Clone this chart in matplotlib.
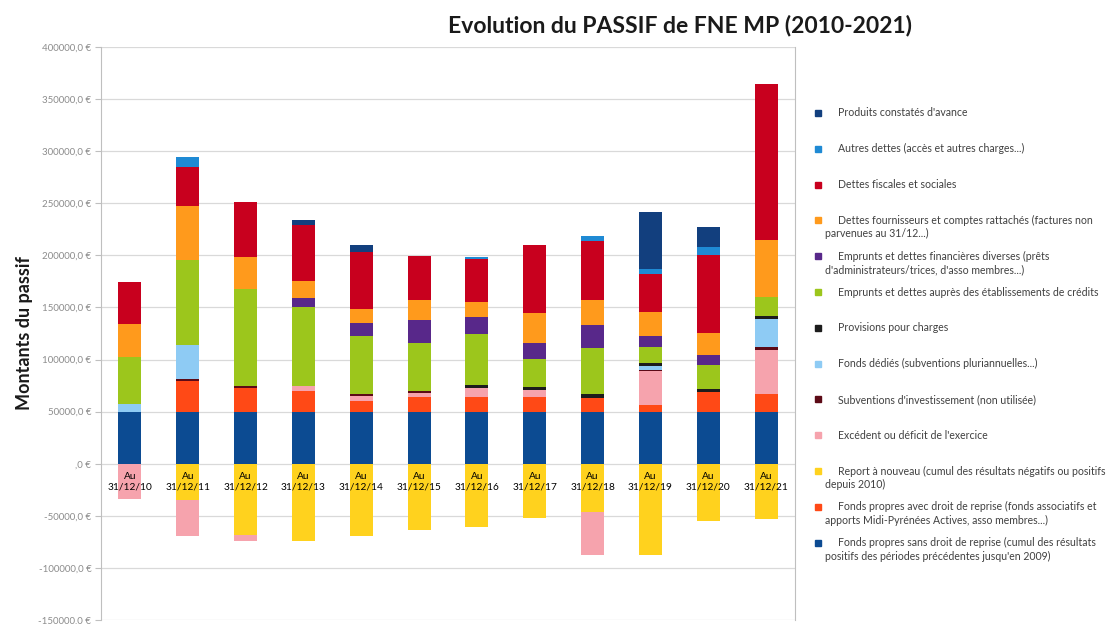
import matplotlib
matplotlib.use("Agg")
import numpy as np
from matplotlib import pyplot as plt
from matplotlib.patches import Rectangle
from matplotlib.ticker import FuncFormatter, MultipleLocator

plt.rcParams['font.family'] = ['Lato', 'DejaVu Sans']

dates = ["31/12/10", "31/12/11", "31/12/12", "31/12/13", "31/12/14", "31/12/15",
         "31/12/16", "31/12/17", "31/12/18", "31/12/19", "31/12/20", "31/12/21"]

# postes du passif, du haut de la pile vers le bas (ordre de la légende)
produits_avance = [0, 0, 0, 4700, 7000, 0, 0, 0, 0, 55200, 19700, 0]
autres_dettes = [0, 9800, 0, 0, 0, 0, 1500, 0, 4700, 4800, 7600, 0]
dettes_fiscales = [40000, 38000, 53700, 53400, 54300, 42000, 41000, 64500, 56500, 36700, 74800, 149800]
dettes_fournisseurs = [32000, 51000, 30400, 16600, 13500, 20000, 14500, 29000, 24000, 22300, 20800, 55000]
emprunts_divers = [0, 0, 0, 9000, 12000, 21700, 16500, 15500, 22500, 11200, 9400, 0]
emprunts_etab = [44500, 82000, 92600, 75000, 56000, 46300, 48500, 27000, 44000, 15000, 23300, 18200]
provisions = [0, 0, 0, 0, 0, 0, 3500, 2500, 4000, 3200, 3000, 2500]
fonds_dedies = [7500, 32500, 0, 0, 0, 0, 0, 0, 0, 4000, 0, 27200]
subventions = [0, 2000, 2000, 0, 2000, 1500, 0, 0, 0, 1000, 0, 2300]
excedent = [-33500, -34000, -5000, 4800, 5000, 4000, 8500, 7000, -42000, 32600, 0, 42500]
report_nouveau = [0, -35000, -68700, -74000, -69500, -64000, -60500, -52000, -46000, -88000, -54500, -53500]
fp_avec_reprise = [0, 29500, 23000, 20200, 10000, 14000, 14000, 14000, 13000, 6000, 18700, 17000]
fp_sans_reprise = [50000, 50000, 50000, 50000, 50000, 50000, 50000, 50000, 50000, 50000, 50000, 50000]

labels = [
    "Produits constatés d'avance",
    "Autres dettes (accès et autres charges...)",
    "Dettes fiscales et sociales",
    "Dettes fournisseurs et comptes rattachés (factures non\nparvenues au 31/12...)",
    "Emprunts et dettes financières diverses (prêts\nd'administrateurs/trices, d'asso membres...)",
    "Emprunts et dettes auprès des établissements de crédits",
    "Provisions pour charges",
    "Fonds dédiés (subventions pluriannuelles...)",
    "Subventions d'investissement (non utilisée)",
    "Excédent ou déficit de l'exercice",
    "Report à nouveau (cumul des résultats négatifs ou positifs\ndepuis 2010)",
    "Fonds propres avec droit de reprise (fonds associatifs et\napports Midi-Pyrénées Actives, asso membres...)",
    "Fonds propres sans droit de reprise (cumul des résultats\npositifs des périodes précédentes jusqu'en 2009)",
]
series = [produits_avance, autres_dettes, dettes_fiscales, dettes_fournisseurs,
          emprunts_divers, emprunts_etab, provisions, fonds_dedies, subventions,
          excedent, report_nouveau, fp_avec_reprise, fp_sans_reprise]
colors = ["#123f7e", "#1f8ad4", "#c8001e", "#ff9a1c", "#58288a", "#9cc61c",
          "#1c1c1c", "#8ecbf4", "#5c0a16", "#f6a3ad", "#ffd21e", "#ff4916", "#0c4b92"]

fig = plt.figure(figsize=(11.18, 6.24), dpi=100)
ax = fig.add_axes([101 / 1118, 4 / 624, 694 / 1118, 573 / 624])

x = np.arange(len(dates))
pos_base = np.zeros(len(dates))
neg_base = np.zeros(len(dates))
# empilement du bas vers le haut : positifs au-dessus de 0, négatifs en dessous
for vals, col in zip(series[::-1], colors[::-1]):
    v = np.array(vals, dtype=float)
    bottom = np.where(v >= 0, pos_base, neg_base)
    ax.bar(x, v, 0.4, bottom=bottom, color=col, zorder=1)
    pos_base += np.clip(v, 0, None)
    neg_base += np.clip(v, None, 0)

ax.set_xlim(-0.5, len(dates) - 0.5)
ax.set_ylim(-150000, 400000)
ax.yaxis.set_major_locator(MultipleLocator(50000))
ax.yaxis.set_major_formatter(FuncFormatter(lambda v, p: ",0 €" if v == 0 else f"{int(v)},0 €"))
for v in np.arange(-150000, 400001, 50000):
    ax.axhline(v, color="#d9d9d9", lw=0.9, zorder=0)

ax.set_xticks(x)
ax.set_xticklabels(["Au\n" + d for d in dates])
for t in ax.get_xticklabels():
    t.set_color("#404040")
    t.set_linespacing(1.4)
ax.spines['bottom'].set_position(('data', 0))
ax.spines['bottom'].set_visible(False)
ax.spines['top'].set_visible(False)
for s in ('left', 'right'):
    ax.spines[s].set_color("#bfbfbf")
ax.tick_params(axis='x', length=0, pad=6, labelsize=7.3)
ax.tick_params(axis='y', labelsize=7, colors="#8c8c8c", length=4, color="#bfbfbf", pad=3)

ax.set_ylabel("Montants du passif", fontsize=13, fontweight='bold', color="#1a1a1a", labelpad=4)
fig.text(680 / 1118, 1 - 25 / 624, "Evolution du PASSIF de FNE MP (2010-2021)",
         ha='center', va='center', fontsize=16.5, fontweight='bold', color="#1a1a1a")

# légende à droite, une case par poste
W, H = 1118, 624
for i, (lab, col) in enumerate(zip(labels, colors)):
    yc = 113 + i * 35.8
    fig.patches.append(Rectangle((815 / W, 1 - (yc + 3) / H), 6 / W, 6 / H,
                                 transform=fig.transFigure, color=col, figure=fig))
    for j, line in enumerate(lab.split("\n")):
        xt = 838 if j == 0 else 825
        fig.text(xt / W, 1 - (yc + j * 13.5) / H, line, ha='left', va='center',
                 fontsize=7.6, color="#404040")

fig.savefig("out.png", dpi=100)
